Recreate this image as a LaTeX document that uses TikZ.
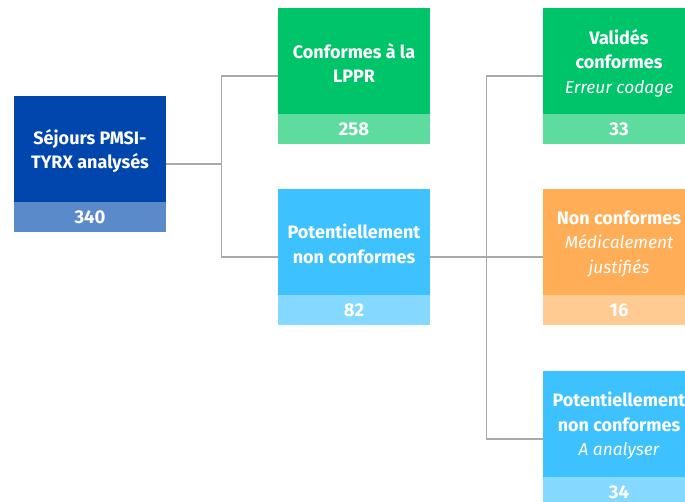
\documentclass[tikz,border=0pt]{standalone}
\usepackage{fontspec}
\setmainfont{Fira Sans}
\definecolor{navy}{HTML}{0046AD}
\definecolor{navylt}{HTML}{5B8ACB}
\definecolor{grn}{HTML}{00C46A}
\definecolor{grnlt}{HTML}{5EDB9F}
\definecolor{sky}{HTML}{3EC1FF}
\definecolor{skylt}{HTML}{85D8FF}
\definecolor{orng}{HTML}{FFAE57}
\definecolor{ornglt}{HTML}{FFCB93}
\definecolor{linegray}{HTML}{A9A9A9}
\tikzset{
  card/.style={draw=none, minimum width=152pt, minimum height=136pt, inner sep=0pt},
  title/.style={text=white, align=center, font=\fontsize{18}{24.5}\selectfont\bfseries, inner sep=0pt},
  count/.style={minimum width=152pt, minimum height=30pt, inner sep=0pt, anchor=south,
    text=white, font=\fontsize{18.5}{20}\selectfont\bfseries},
  conn/.style={draw=linegray, line width=1.1pt},
}
\newcommand{\sub}[1]{{\fontsize{17.3}{24.5}\selectfont\mdseries\itshape #1}}
\begin{document}
\begin{tikzpicture}[x=1pt, y=-1pt]
  \useasboundingbox (0,0) rectangle (685,501);
  \clip (0,0) rectangle (685,501);

  % column 1
  \node[card, fill=navy] (sej) at (90,164) {};
  \node[count, fill=navylt] (sejn) at (sej.south) {340};
  \node[title] (sejt) at (90,151) {Séjours PMSI-\\TYRX analysés};

  % column 2
  \node[card, fill=grn] (conf) at (354,76) {};
  \node[count, fill=grnlt] (confn) at (conf.south) {258};
  \node[title] (conft) at (354,63) {Conformes à la\\LPPR};

  \node[card, fill=sky] (pot) at (354,257) {};
  \node[count, fill=skylt] (potn) at (pot.south) {82};
  \node[title] (pott) at (354,244) {Potentiellement\\non conformes};

  % column 3
  \node[card, fill=grn] (val) at (619,76) {};
  \node[count, fill=grnlt] (valn) at (val.south) {33};
  \node[title] (valt) at (619,63) {Validés\\conformes\\\sub{Erreur codage}};

  \node[card, fill=orng] (nc) at (619,257) {};
  \node[count, fill=ornglt] (ncn) at (nc.south) {16};
  \node[title] (nct) at (619,244) {Non conformes\\\sub{Médicalement}\\\sub{justifiés}};

  \node[card, fill=sky] (ana) at (619,439) {};
  \node[count, fill=skylt] (anan) at (ana.south) {34};
  \node[title] (anat) at (619,426) {Potentiellement\\non conformes\\\sub{A analyser}};

  % connectors
  \coordinate (j1) at (221.5,164);
  \coordinate (j2) at (486.5,257);
  \draw[conn] (sej.east) -- (j1) |- (conf.west);
  \draw[conn] (j1) |- (pot.west);
  \draw[conn] (pot.east) -- (j2) |- (val.west);
  \draw[conn] (j2) |- (ana.west);
  \draw[conn] (j2) -- (nc.west);
\end{tikzpicture}
\end{document}
